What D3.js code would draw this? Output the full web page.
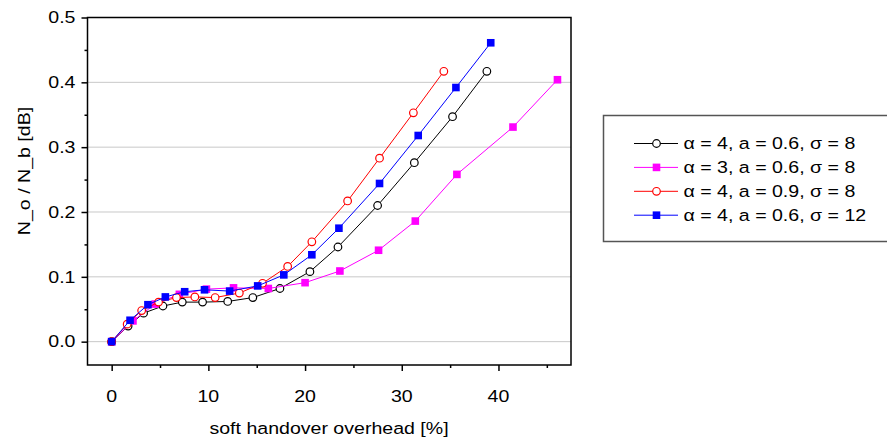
<!DOCTYPE html>
<html>
<head>
<meta charset="utf-8">
<script src="https://cdn.jsdelivr.net/npm/d3@7"></script>
<style>
body { margin: 0; background: #fff; overflow: hidden; }
text { font-family: Arial, "Liberation Sans", sans-serif; fill: #000; }
</style>
</head>
<body>
<svg id="chart" width="887" height="441"></svg>
<script>
// ---- data ----
const xBlack = [0, 1.7, 3.3, 5.3, 7.3, 9.4, 12.0, 14.6, 17.4, 20.5, 23.4, 27.5, 31.3, 35.25, 38.8];
const yBlack = [0, 0.024, 0.044, 0.055, 0.061, 0.061, 0.062, 0.068, 0.082, 0.108, 0.146, 0.210, 0.276, 0.347, 0.417];

const xMagenta = [0, 2.2, 4.5, 7.0, 9.8, 12.6, 16.2, 20.0, 23.6, 27.6, 31.4, 35.7, 41.5, 46.1];
const yMagenta = [0, 0.032, 0.058, 0.073, 0.081, 0.083, 0.082, 0.091, 0.109, 0.141, 0.186, 0.258, 0.331, 0.404];

const xRed = [0, 1.6, 3.1, 4.85, 6.7, 8.6, 10.7, 13.2, 15.6, 18.2, 20.7, 24.4, 27.7, 31.2, 34.35];
const yRed = [0, 0.027, 0.048, 0.061, 0.068, 0.069, 0.068, 0.075, 0.090, 0.116, 0.154, 0.217, 0.283, 0.353, 0.417];

const xBlue = [0, 1.9, 3.75, 5.55, 7.55, 9.6, 12.2, 15.1, 17.8, 20.7, 23.5, 27.7, 31.7, 35.6, 39.2];
const yBlue = [0, 0.033, 0.057, 0.069, 0.077, 0.080, 0.078, 0.086, 0.103, 0.134, 0.175, 0.244, 0.318, 0.392, 0.461];

const seriesNames = ["α = 4, a = 0.6, σ = 8", "α = 3, a = 0.6, σ = 8", "α = 4, a = 0.9, σ = 8", "α = 4, a = 0.6, σ = 12"];
const xTicks = [0, 10, 20, 30, 40];
const xMinorTicks = [5, 15, 25, 35, 45];
const yTicks = [0.0, 0.1, 0.2, 0.3, 0.4, 0.5];
const yMinorTicks = [0.05, 0.15, 0.25, 0.35, 0.45];
const xTitle = "soft handover overhead [%]";
const yTitle = "N_o / N_b  [dB]";

// ---- styles ----
const series = [
  { name: seriesNames[0], xs: xBlack, ys: yBlack, color: "#000000", shape: "circle" },
  { name: seriesNames[1], xs: xMagenta, ys: yMagenta, color: "#ff00ff", shape: "square" },
  { name: seriesNames[2], xs: xRed, ys: yRed, color: "#ff0000", shape: "circle" },
  { name: seriesNames[3], xs: xBlue, ys: yBlue, color: "#0000ff", shape: "square" }
];
const FS = 16.3, SX = 1.2; // font size and horizontal stretch of the original

const svg = d3.select("#chart");
const L = 87.5, R = 571, T = 17.5, B = 365;
const x = d3.scaleLinear().domain([-2.5, 47.5]).range([L, R]);
const y = d3.scaleLinear().domain([-0.036, 0.5]).range([B, T]);

// grid
svg.append("g").selectAll("line").data(yTicks.filter(d => d < 0.5)).join("line")
  .attr("x1", L).attr("x2", R)
  .attr("y1", d => y(d)).attr("y2", d => y(d))
  .attr("stroke", "#c8c8c8").attr("stroke-width", 1);

// axes (tick marks via d3 axes)
function styleAxis(g) {
  g.select(".domain").remove();
  g.selectAll("line").attr("stroke", "#000").attr("stroke-width", 1.5);
  g.selectAll("text").remove();
}
svg.append("g").attr("transform", `translate(0,${B})`)
  .call(d3.axisBottom(x).tickValues(xTicks).tickSize(6)).call(styleAxis);
svg.append("g").attr("transform", `translate(0,${B})`)
  .call(d3.axisBottom(x).tickValues(xMinorTicks).tickSize(3)).call(styleAxis);
svg.append("g").attr("transform", `translate(${L},0)`)
  .call(d3.axisLeft(y).tickValues(yTicks).tickSize(6)).call(styleAxis);
svg.append("g").attr("transform", `translate(${L},0)`)
  .call(d3.axisLeft(y).tickValues(yMinorTicks).tickSize(3)).call(styleAxis);

// tick labels
svg.append("g").selectAll("text").data(xTicks).join("text")
  .attr("transform", d => `translate(${x(d)},402) scale(${SX},1)`)
  .attr("text-anchor", "middle").attr("font-size", FS).text(d3.format("d"));
svg.append("g").selectAll("text").data(yTicks).join("text")
  .attr("transform", d => `translate(75.5,${y(d) + 5.8}) scale(${SX},1)`)
  .attr("text-anchor", "end").attr("font-size", FS).text(d3.format(".1f"));

// frame
svg.append("rect").attr("x", L).attr("y", T).attr("width", R - L).attr("height", B - T)
  .attr("fill", "none").attr("stroke", "#000").attr("stroke-width", 1.5);

// titles
svg.append("text").attr("transform", `translate(329,434) scale(${SX},1)`)
  .attr("text-anchor", "middle").attr("font-size", FS).text(xTitle);
svg.append("text").attr("transform", `translate(30,171) rotate(-90) scale(${SX},1)`)
  .attr("text-anchor", "middle").attr("font-size", FS).text(yTitle);

// series
const line = d3.line().x(d => x(d[0])).y(d => y(d[1]));
function drawMarker(g, shape, color, cx, cy) {
  if (shape === "circle") {
    g.append("circle").attr("cx", cx).attr("cy", cy).attr("r", 3.8)
      .attr("fill", "#fff").attr("stroke", color).attr("stroke-width", 1.2);
  } else {
    g.append("rect").attr("x", cx - 3.8).attr("y", cy - 3.8).attr("width", 7.6).attr("height", 7.6)
      .attr("fill", color);
  }
}
series.forEach(s => {
  const pts = s.xs.map((v, i) => [v, s.ys[i]]);
  const g = svg.append("g");
  g.append("path").datum(pts).attr("d", line).attr("fill", "none")
    .attr("stroke", s.color).attr("stroke-width", 1);
  pts.forEach(p => drawMarker(g, s.shape, s.color, x(p[0]), y(p[1])));
});

// legend
svg.append("rect").attr("x", 603.5).attr("y", 115.5).attr("width", 400).attr("height", 126)
  .attr("fill", "#fff").attr("stroke", "#555").attr("stroke-width", 1.5);
series.forEach((s, i) => {
  const ly = 143.5 + i * 23.9;
  const g = svg.append("g");
  g.append("line").attr("x1", 634).attr("x2", 678).attr("y1", ly).attr("y2", ly)
    .attr("stroke", s.color).attr("stroke-width", 1);
  drawMarker(g, s.shape, s.color, 656.5, ly);
  g.append("text").attr("transform", `translate(683.5,${ly + 5.8}) scale(${SX},1)`)
    .attr("font-size", FS).text(s.name);
});
</script>
</body>
</html>
